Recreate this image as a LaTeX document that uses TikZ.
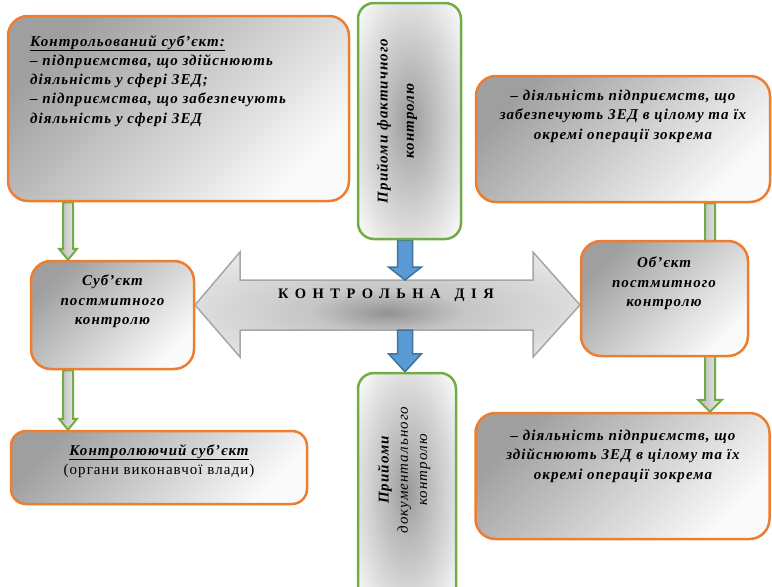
\documentclass[tikz,border=0pt]{standalone}
\usepackage{fontspec}
\setmainfont{Liberation Serif}
\newfontfamily\boxfont[LetterSpace=7]{Liberation Serif}
\newfontfamily\spacedfont[LetterSpace=45]{Liberation Serif}
\usetikzlibrary{calc}

\definecolor{boxorange}{HTML}{ED7D31}
\definecolor{boxgreen}{HTML}{70AD47}
\definecolor{arrblue}{HTML}{5B9BD5}
\definecolor{arrblueline}{HTML}{41719C}
\definecolor{actline}{HTML}{A6A6A6}

\pgfdeclareradialshading{glow}{\pgfpoint{0bp}{0bp}}{color(0bp)=(gray!80); color(8bp)=(gray!60); color(36bp)=(white); color(50bp)=(white)}
\pgfdeclareradialshading{actglow}{\pgfpoint{0bp}{-4bp}}{color(0bp)=(gray!85); color(10bp)=(gray!45); color(38bp)=(gray!10); color(50bp)=(white)}

\pgfdeclarelayer{back}
\pgfsetlayers{back,main}

% vertical block arrow: style, from, to, half shaft, half head, head length
\newcommand{\blockarrow}[6]{%
  \draw[#1] let \p1=(#2), \p2=(#3) in
    (\x1-#4,\y1) -- (\x1-#4,\y2+#6) -- (\x1-#5,\y2+#6) -- (\x1,\y2) --
    (\x1+#5,\y2+#6) -- (\x1+#4,\y2+#6) -- (\x1+#4,\y1) -- cycle;}

\tikzset{
  obox/.style={draw=boxorange, line width=2.5pt, rounded corners=20pt,
    top color=gray!75, bottom color=white!96!gray, shading angle=45, inner sep=0pt},
  gbox/.style={draw=boxgreen, line width=2.5pt, rounded corners=16pt,
    shade, shading=glow, inner sep=0pt},
  btext/.style={font=\fontsize{15}{19.3}\selectfont\boxfont\bfseries\itshape,
    align=center, inner sep=0pt},
  bluearr/.style={draw=arrblueline, fill=arrblue, line width=1.5pt},
  greenarr/.style={draw=boxgreen, line width=2pt, left color=gray!55, right color=gray!15},
}

\begin{document}
\begin{tikzpicture}[x=1pt,y=-1pt]
  \useasboundingbox (0,0) rectangle (772,587);

  % boxes
  \node[obox, minimum width=341pt, minimum height=185pt] (ctrl) at (178.5,108.5) {};
  \node[btext, align=left, anchor=north west] (ctrltext) at (30,35)
    {\underline{Контрольований суб’єкт:}\\
     – підприємства, що здійснюють\\
     діяльність у сфері ЗЕД;\\
     – підприємства, що забезпечують\\
     діяльність у сфері ЗЕД};

  \node[gbox, minimum width=103pt, minimum height=236pt] (fact) at (409.5,121) {};
  \node[btext, rotate=90] (facttext) at (397,121) {Прийоми фактичного\\[7pt]контролю};

  \node[obox, minimum width=294pt, minimum height=126pt] (topR) at (623,139) {};
  \node[btext, anchor=north] (topRtext) at (623,90)
    {– діяльність підприємств, що\\забезпечують ЗЕД в цілому та їх\\окремі операції зокрема};

  \node[obox, minimum width=163pt, minimum height=108pt] (subj) at (112.5,315) {};
  \node[btext, anchor=north] (subjtext) at (112.5,275) {Суб’єкт\\постмитного\\контролю};

  \node[obox, minimum width=294pt, minimum height=126pt] (botR) at (622.5,476) {};
  \node[btext, anchor=north] (botRtext) at (623,430)
    {– діяльність підприємств, що\\здійснюють ЗЕД в цілому та їх\\окремі операції зокрема};

  \node[obox, rounded corners=15pt, minimum width=296pt, minimum height=73pt] (exec) at (159,467.5) {};
  \node[btext, anchor=north] (exectext) at (159,444)
    {\underline{Контролюючий суб’єкт}\\{\mdseries\upshape (органи виконавчої влади)}};

  \node[gbox, minimum width=98pt, minimum height=236pt] (docs) at (407,491) {};
  \node[btext, rotate=90] (docstext) at (404,470)
    {Прийоми\\{\mdseries документального}\\{\mdseries контролю}};

  % lanes for the connectors
  \coordinate (actN) at (405,280);
  \coordinate (actS) at (405,330);
  \coordinate (laneL) at (68,0);
  \coordinate (laneR) at (710,0);

  \begin{pgfonlayer}{back}
    % control action
    \draw[draw=actline, line width=1.5pt, shade, shading=actglow]
      (195,305) -- (240,252) -- (240,280) -- (533,280) -- (533,252) -- (580,305)
      -- (533,357) -- (533,330) -- (240,330) -- (240,357) -- cycle;
    \blockarrow{bluearr}{fact.south -| actN}{actN}{7.5pt}{16.5pt}{13pt}
    \blockarrow{bluearr}{actS}{docs.north -| actS}{7.5pt}{16.5pt}{18pt}
    \blockarrow{greenarr}{ctrl.south -| laneL}{subj.north -| laneL}{5pt}{9pt}{11pt}
    \blockarrow{greenarr}{subj.south -| laneL}{exec.north -| laneL}{5pt}{9pt}{11pt}
    \blockarrow{greenarr}{topR.south -| laneR}{botR.north -| laneR}{5pt}{12pt}{12pt}
  \end{pgfonlayer}

  \node[obox, minimum width=167pt, minimum height=115pt] (obj) at (664.5,298.5) {};
  \node[btext, anchor=north] (objtext) at (664,257) {Об’єкт\\постмитного\\контролю};

  \node[font=\fontsize{14.5}{17}\selectfont\spacedfont\bfseries] (act) at (386,295)
    {КОНТРОЛЬНА\hspace{14pt}ДІЯ};
\end{tikzpicture}
\end{document}
